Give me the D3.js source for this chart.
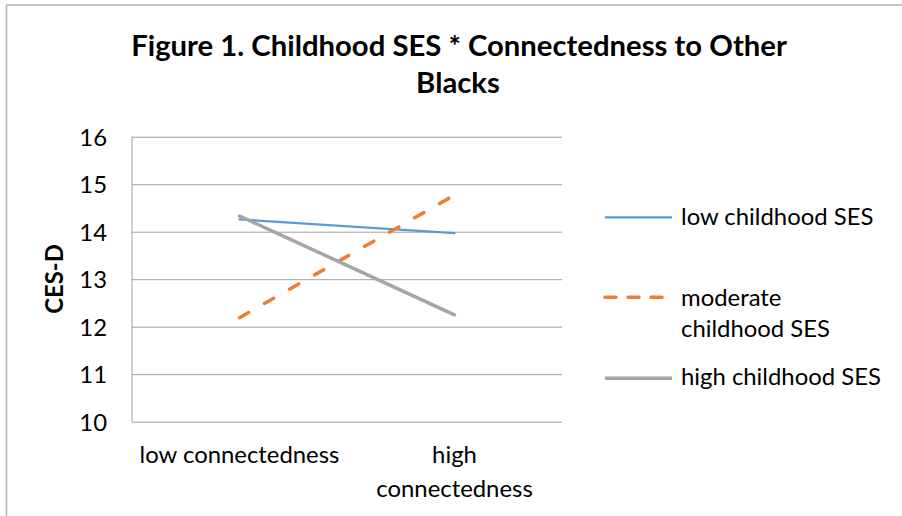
<!DOCTYPE html>
<html>
<head>
<meta charset="utf-8">
<script src="https://cdn.jsdelivr.net/npm/d3@7"></script>
<style>
  html, body { margin: 0; padding: 0; background: #fff; }
  svg { display: block; }
  text { font-family: Lato, "Noto Sans", sans-serif; fill: #000; }
</style>
</head>
<body>
<svg id="chart" width="902" height="516"></svg>
<script>
// ---- data ----
const categories = ["low connectedness", "high connectedness"];
const seriesNames = ["low childhood SES", "moderate childhood SES", "high childhood SES"];
const lowSES = [14.26, 13.97];
const moderateSES = [12.19, 14.77];
const highSES = [14.33, 12.25];
const yTicks = [10, 11, 12, 13, 14, 15, 16];
const titleLines = ["Figure 1. Childhood SES * Connectedness to Other", "Blacks"];
const yAxisTitle = "CES-D";

// ---- layout ----
const W = 902, H = 516;
const plot = { left: 132, right: 562, top: 136.7, bottom: 421.7 };
const colors = ["#5B9BD5", "#ED7D31", "#A5A5A5"];
const widths = [2.25, 3.5, 3.5];
const dashes = [null, "10.5,18.3", null];

const svg = d3.select("#chart");

// measure helper to fit font sizes to target widths
function fitSize(txt, weight, targetW) {
  const t = svg.append("text").attr("font-size", 100).attr("font-weight", weight).text(txt);
  const w = t.node().getComputedTextLength();
  t.remove();
  return 100 * targetW / w;
}
const titleSize = fitSize(titleLines[0], "bold", 656);
const bodySize = fitSize("low connectedness", "normal", 200);

// chart border (top and left visible)
svg.append("line").attr("x1", 6.5).attr("x2", W).attr("y1", 5).attr("y2", 5)
  .attr("stroke", "#b3b3b3").attr("stroke-width", 1.5);
svg.append("line").attr("x1", 6.5).attr("x2", 6.5).attr("y1", 5).attr("y2", H)
  .attr("stroke", "#b3b3b3").attr("stroke-width", 1.5);

// title
svg.append("text").attr("x", 459).attr("y", 56).attr("text-anchor", "middle")
  .attr("font-weight", "bold").attr("font-size", titleSize).text(titleLines[0]);
svg.append("text").attr("x", 458).attr("y", 93).attr("text-anchor", "middle")
  .attr("font-weight", "bold").attr("font-size", titleSize).text(titleLines[1]);

// scales
const x = d3.scaleBand().domain(categories).range([plot.left, plot.right]);
const y = d3.scaleLinear().domain([10, 16]).range([plot.bottom, plot.top]);

// gridlines + tick labels
const yAxis = d3.axisLeft(y).tickValues(yTicks).tickSize(-(plot.right - plot.left)).tickFormat(d3.format("d"));
const gy = svg.append("g").attr("transform", `translate(${plot.left},0)`).call(yAxis);
gy.select(".domain").remove();
gy.selectAll(".tick line").attr("stroke", "#a0a0a0").attr("stroke-width", 1);
gy.selectAll(".tick text").attr("x", -25).attr("dy", "0.36em")
  .attr("font-size", bodySize).attr("fill", "#000")
  .style("font-family", "Lato, 'Noto Sans', sans-serif");

// vertical axis line
svg.append("line").attr("x1", plot.left).attr("x2", plot.left)
  .attr("y1", plot.top).attr("y2", plot.bottom).attr("stroke", "#a0a0a0").attr("stroke-width", 1);

// x axis labels
const cx0 = x(categories[0]) + x.bandwidth() / 2;
const cx1 = x(categories[1]) + x.bandwidth() / 2;
svg.append("text").attr("x", cx0).attr("y", 463)
  .attr("text-anchor", "middle").attr("font-size", bodySize).text(categories[0]);
const hiParts = categories[1].split(" ");
svg.append("text").attr("x", cx1).attr("y", 463)
  .attr("text-anchor", "middle").attr("font-size", bodySize).text(hiParts[0]);
svg.append("text").attr("x", cx1).attr("y", 497)
  .attr("text-anchor", "middle").attr("font-size", bodySize).text(hiParts[1]);

// y axis title
svg.append("text").attr("transform", `translate(63,279) rotate(-90)`)
  .attr("text-anchor", "middle").attr("font-weight", "bold").attr("font-size", bodySize)
  .text(yAxisTitle);

// series lines
const series = [lowSES, moderateSES, highSES];
const line = d3.line().x((d, i) => x(categories[i]) + x.bandwidth() / 2).y(d => y(d));
series.forEach((vals, k) => {
  svg.append("path").datum(vals).attr("d", line)
    .attr("fill", "none").attr("stroke", colors[k]).attr("stroke-width", widths[k])
    .attr("stroke-linecap", "round")
    .attr("stroke-dasharray", dashes[k]);
});

// legend
const legY = [217.3, 297.3, 378.3];
const legendDash = [null, "11,12", null];
seriesNames.forEach((name, k) => {
  svg.append("line").attr("x1", 605).attr("x2", 672).attr("y1", legY[k]).attr("y2", legY[k])
    .attr("stroke", colors[k]).attr("stroke-width", widths[k]).attr("stroke-linecap", k === 1 ? "round" : "butt")
    .attr("stroke-dasharray", legendDash[k]);
});
svg.append("text").attr("x", 681).attr("y", 225).attr("font-size", bodySize).text(seriesNames[0]);
svg.append("text").attr("x", 681).attr("y", 306).attr("font-size", bodySize).text("moderate");
svg.append("text").attr("x", 681).attr("y", 337).attr("font-size", bodySize).text("childhood SES");
svg.append("text").attr("x", 681).attr("y", 385).attr("font-size", bodySize).text(seriesNames[2]);
</script>
</body>
</html>
